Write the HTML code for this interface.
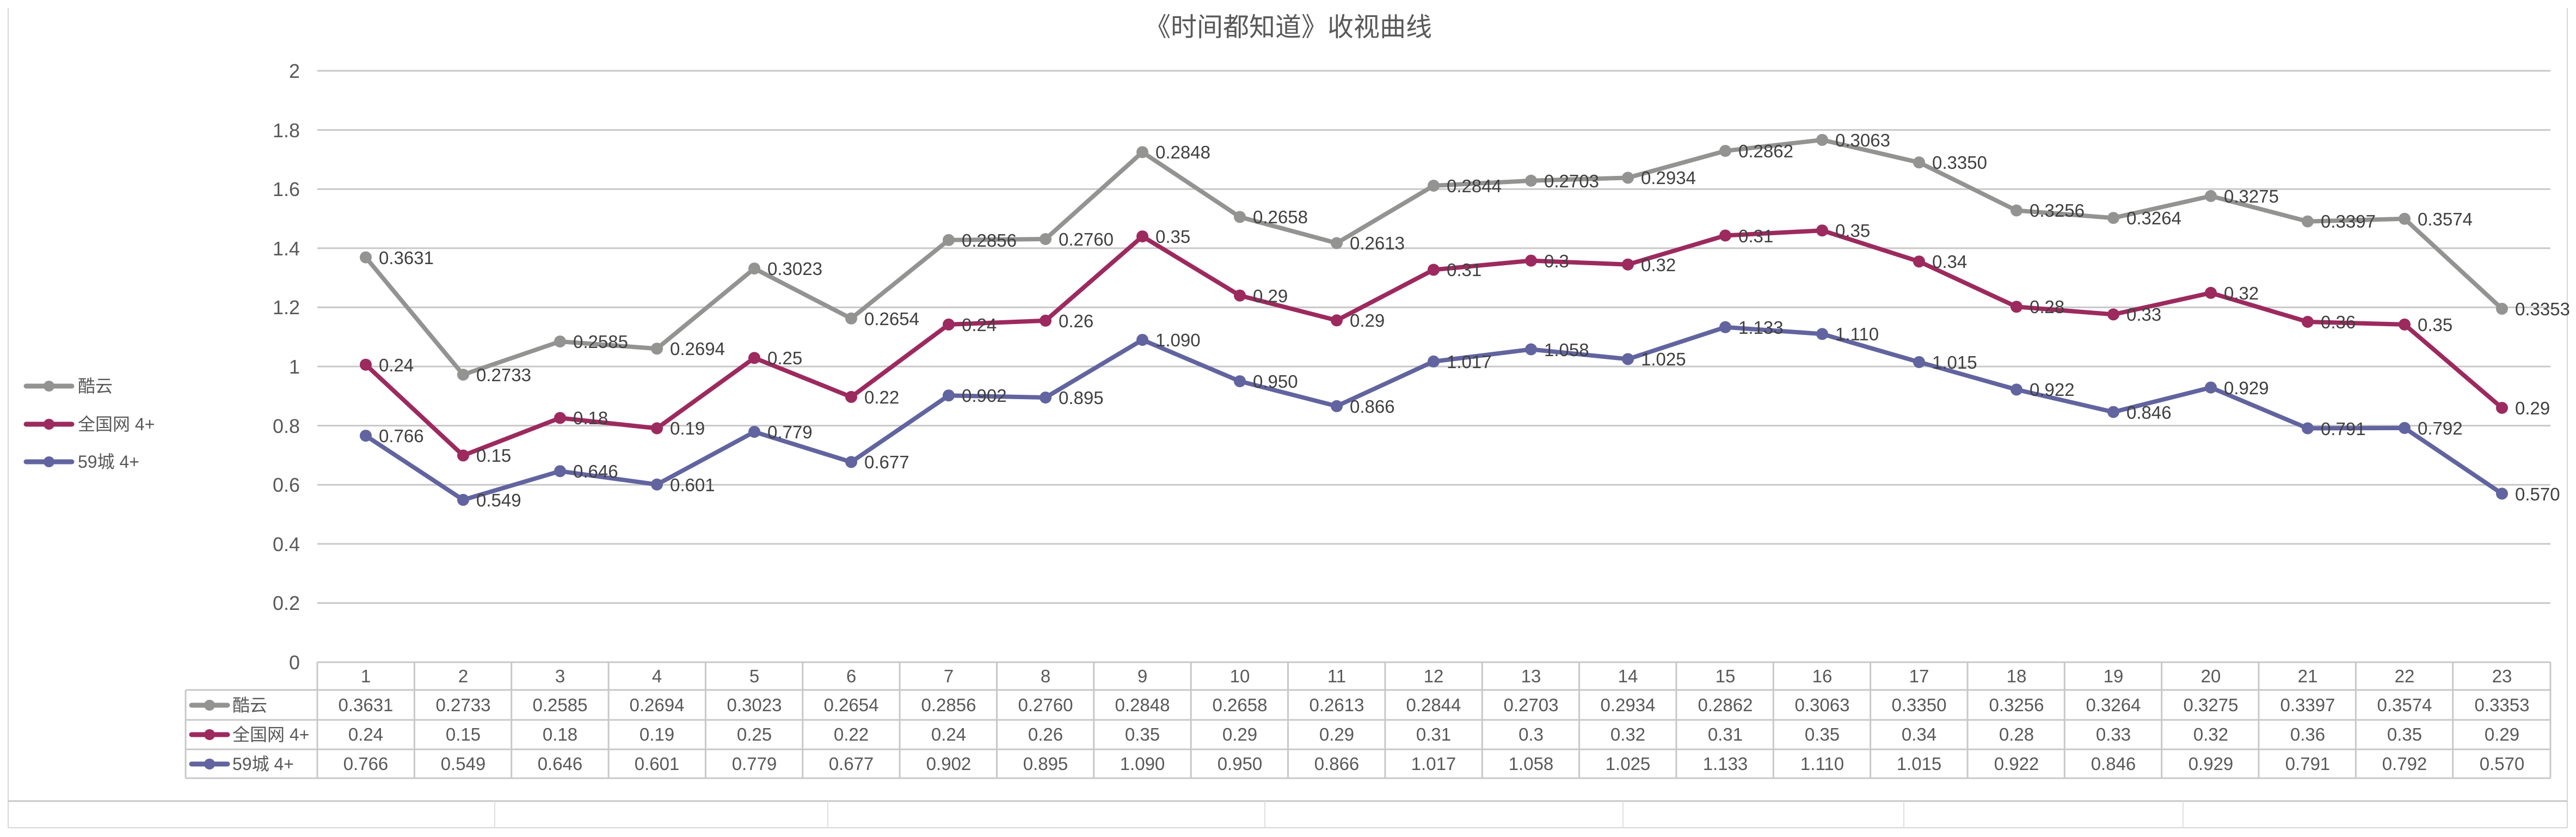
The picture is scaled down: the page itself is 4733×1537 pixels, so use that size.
<!DOCTYPE html>
<html><head><meta charset="utf-8"><style>
html,body{margin:0;padding:0;background:#fff;}
svg{display:block;font-family:"Liberation Sans","Noto Sans CJK SC",sans-serif;}
</style></head><body>
<svg width="4733" height="1537" viewBox="0 0 4733 1537" xmlns="http://www.w3.org/2000/svg">
<rect width="4733" height="1537" fill="#fff"/>
<!-- outer frame -->
<line x1="15" y1="15" x2="15" y2="1520" stroke="#d6d6d6" stroke-width="2"/>
<line x1="4717" y1="15" x2="4717" y2="1520" stroke="#d6d6d6" stroke-width="2"/>
<line x1="15" y1="1471" x2="4717" y2="1471" stroke="#c8c8c8" stroke-width="3"/>
<line x1="15" y1="1520" x2="4717" y2="1520" stroke="#d6d6d6" stroke-width="2"/>
<g stroke="#e0e0e0" stroke-width="2">
<line x1="909" y1="1471" x2="909" y2="1520"/><line x1="1521" y1="1471" x2="1521" y2="1520"/>
<line x1="2324" y1="1471" x2="2324" y2="1520"/><line x1="2982" y1="1471" x2="2982" y2="1520"/>
<line x1="3498" y1="1471" x2="3498" y2="1520"/><line x1="4011" y1="1471" x2="4011" y2="1520"/>
</g>
<!-- title -->
<text x="2367" y="66" font-size="48" fill="#595959" text-anchor="middle">《时间都知道》收视曲线</text>
<!-- gridlines -->
<g stroke="#c8c8c8" stroke-width="3">
<line x1="583" y1="130" x2="4686" y2="130"/><line x1="583" y1="238.6" x2="4686" y2="238.6"/>
<line x1="583" y1="347.2" x2="4686" y2="347.2"/><line x1="583" y1="455.8" x2="4686" y2="455.8"/>
<line x1="583" y1="564.4" x2="4686" y2="564.4"/><line x1="583" y1="673" x2="4686" y2="673"/>
<line x1="583" y1="781.6" x2="4686" y2="781.6"/><line x1="583" y1="890.2" x2="4686" y2="890.2"/>
<line x1="583" y1="998.8" x2="4686" y2="998.8"/><line x1="583" y1="1107.4" x2="4686" y2="1107.4"/>
</g>
<g font-size="36" fill="#595959" text-anchor="end">
<text x="551" y="143">2</text><text x="551" y="252">1.8</text><text x="551" y="360">1.6</text>
<text x="551" y="469">1.4</text><text x="551" y="577">1.2</text><text x="551" y="686">1</text>
<text x="551" y="795">0.8</text><text x="551" y="903">0.6</text><text x="551" y="1012">0.4</text>
<text x="551" y="1120">0.2</text><text x="551" y="1229">0</text>
</g>
<!-- table -->
<g stroke="#c8c8c8" stroke-width="3" fill="none">
<line x1="583" y1="1216" x2="4686" y2="1216"/>
<line x1="341" y1="1267" x2="4686" y2="1267"/>
<line x1="341" y1="1322" x2="4686" y2="1322"/>
<line x1="341" y1="1376" x2="4686" y2="1376"/>
<line x1="341" y1="1429" x2="4686" y2="1429"/>
<line x1="341" y1="1267" x2="341" y2="1429"/>
<line x1="583" y1="1216" x2="583" y2="1429"/><line x1="761.4" y1="1216" x2="761.4" y2="1429"/><line x1="939.7" y1="1216" x2="939.7" y2="1429"/><line x1="1118.1" y1="1216" x2="1118.1" y2="1429"/><line x1="1296.4" y1="1216" x2="1296.4" y2="1429"/><line x1="1474.8" y1="1216" x2="1474.8" y2="1429"/><line x1="1653.1" y1="1216" x2="1653.1" y2="1429"/><line x1="1831.5" y1="1216" x2="1831.5" y2="1429"/><line x1="2009.8" y1="1216" x2="2009.8" y2="1429"/><line x1="2188.2" y1="1216" x2="2188.2" y2="1429"/><line x1="2366.5" y1="1216" x2="2366.5" y2="1429"/><line x1="2544.9" y1="1216" x2="2544.9" y2="1429"/><line x1="2723.2" y1="1216" x2="2723.2" y2="1429"/><line x1="2901.6" y1="1216" x2="2901.6" y2="1429"/><line x1="3079.9" y1="1216" x2="3079.9" y2="1429"/><line x1="3258.3" y1="1216" x2="3258.3" y2="1429"/><line x1="3436.6" y1="1216" x2="3436.6" y2="1429"/><line x1="3615" y1="1216" x2="3615" y2="1429"/><line x1="3793.3" y1="1216" x2="3793.3" y2="1429"/><line x1="3971.7" y1="1216" x2="3971.7" y2="1429"/><line x1="4150" y1="1216" x2="4150" y2="1429"/><line x1="4328.4" y1="1216" x2="4328.4" y2="1429"/><line x1="4506.7" y1="1216" x2="4506.7" y2="1429"/><line x1="4686" y1="1216" x2="4686" y2="1429"/>
</g>
<!-- table legend -->
<g stroke-width="9" stroke-linecap="round">
<line x1="352" y1="1295" x2="418" y2="1295" stroke="#939492"/><circle cx="385" cy="1295" r="10" fill="#939492" stroke="none"/>
<line x1="352" y1="1349" x2="418" y2="1349" stroke="#9c2a5e"/><circle cx="385" cy="1349" r="10" fill="#9c2a5e" stroke="none"/>
<line x1="352" y1="1403" x2="418" y2="1403" stroke="#6264a0"/><circle cx="385" cy="1403" r="10" fill="#6264a0" stroke="none"/>
</g>
<g font-size="32" fill="#595959">
<text x="427" y="1306">酷云</text><text x="427" y="1360">全国网 4+</text><text x="427" y="1414">59城 4+</text>
</g>
<g font-size="33" fill="#595959" text-anchor="middle">
<text y="1253"><tspan x="672">1</tspan><tspan x="851">2</tspan><tspan x="1029">3</tspan><tspan x="1207">4</tspan><tspan x="1386">5</tspan><tspan x="1564">6</tspan><tspan x="1743">7</tspan><tspan x="1921">8</tspan><tspan x="2099">9</tspan><tspan x="2278">10</tspan><tspan x="2456">11</tspan><tspan x="2634">12</tspan><tspan x="2813">13</tspan><tspan x="2991">14</tspan><tspan x="3170">15</tspan><tspan x="3348">16</tspan><tspan x="3526">17</tspan><tspan x="3705">18</tspan><tspan x="3883">19</tspan><tspan x="4062">20</tspan><tspan x="4240">21</tspan><tspan x="4418">22</tspan><tspan x="4597">23</tspan></text>
<text y="1306"><tspan x="672">0.3631</tspan><tspan x="851">0.2733</tspan><tspan x="1029">0.2585</tspan><tspan x="1207">0.2694</tspan><tspan x="1386">0.3023</tspan><tspan x="1564">0.2654</tspan><tspan x="1743">0.2856</tspan><tspan x="1921">0.2760</tspan><tspan x="2099">0.2848</tspan><tspan x="2278">0.2658</tspan><tspan x="2456">0.2613</tspan><tspan x="2634">0.2844</tspan><tspan x="2813">0.2703</tspan><tspan x="2991">0.2934</tspan><tspan x="3170">0.2862</tspan><tspan x="3348">0.3063</tspan><tspan x="3526">0.3350</tspan><tspan x="3705">0.3256</tspan><tspan x="3883">0.3264</tspan><tspan x="4062">0.3275</tspan><tspan x="4240">0.3397</tspan><tspan x="4418">0.3574</tspan><tspan x="4597">0.3353</tspan></text>
<text y="1360"><tspan x="672">0.24</tspan><tspan x="851">0.15</tspan><tspan x="1029">0.18</tspan><tspan x="1207">0.19</tspan><tspan x="1386">0.25</tspan><tspan x="1564">0.22</tspan><tspan x="1743">0.24</tspan><tspan x="1921">0.26</tspan><tspan x="2099">0.35</tspan><tspan x="2278">0.29</tspan><tspan x="2456">0.29</tspan><tspan x="2634">0.31</tspan><tspan x="2813">0.3</tspan><tspan x="2991">0.32</tspan><tspan x="3170">0.31</tspan><tspan x="3348">0.35</tspan><tspan x="3526">0.34</tspan><tspan x="3705">0.28</tspan><tspan x="3883">0.33</tspan><tspan x="4062">0.32</tspan><tspan x="4240">0.36</tspan><tspan x="4418">0.35</tspan><tspan x="4597">0.29</tspan></text>
<text y="1414"><tspan x="672">0.766</tspan><tspan x="851">0.549</tspan><tspan x="1029">0.646</tspan><tspan x="1207">0.601</tspan><tspan x="1386">0.779</tspan><tspan x="1564">0.677</tspan><tspan x="1743">0.902</tspan><tspan x="1921">0.895</tspan><tspan x="2099">1.090</tspan><tspan x="2278">0.950</tspan><tspan x="2456">0.866</tspan><tspan x="2634">1.017</tspan><tspan x="2813">1.058</tspan><tspan x="2991">1.025</tspan><tspan x="3170">1.133</tspan><tspan x="3348">1.110</tspan><tspan x="3526">1.015</tspan><tspan x="3705">0.922</tspan><tspan x="3883">0.846</tspan><tspan x="4062">0.929</tspan><tspan x="4240">0.791</tspan><tspan x="4418">0.792</tspan><tspan x="4597">0.570</tspan></text>
</g>
<!-- left legend -->
<g stroke-width="9" stroke-linecap="round">
<line x1="48" y1="709" x2="132" y2="709" stroke="#939492"/><circle cx="90" cy="709" r="10" fill="#939492" stroke="none"/>
<line x1="48" y1="779" x2="132" y2="779" stroke="#9c2a5e"/><circle cx="90" cy="779" r="10" fill="#9c2a5e" stroke="none"/>
<line x1="48" y1="848" x2="132" y2="848" stroke="#6264a0"/><circle cx="90" cy="848" r="10" fill="#6264a0" stroke="none"/>
</g>
<g font-size="32" fill="#595959">
<text x="143" y="720">酷云</text><text x="143" y="790">全国网 4+</text><text x="143" y="859">59城 4+</text>
</g>
<!-- series -->
<polyline fill="none" stroke="#939492" stroke-width="8" stroke-linejoin="round" points="672,472.6 851,688 1029,627.1 1207,640.2 1386,493.1 1564,584.8 1743,440.8 1921,439 2099,279.4 2278,398.4 2456,446.4 2634,341 2813,331.8 2991,326.4 3170,277.1 3348,256.9 3526,298.3 3705,386.5 3883,400.2 4062,360 4240,406.6 4418,401.8 4597,567"/>
<polyline fill="none" stroke="#9c2a5e" stroke-width="8" stroke-linejoin="round" points="672,669.7 851,836.4 1029,767.5 1207,786.5 1386,657.3 1564,728.9 1743,595.9 1921,588.8 2099,434.1 2278,542.7 2456,588.3 2634,495.4 2813,478.6 2991,485.7 3170,432.5 3348,423.2 3526,480.2 3705,563.3 3883,577.4 4062,537.8 4240,591 4418,595.9 4597,749"/>
<polyline fill="none" stroke="#6264a0" stroke-width="8" stroke-linejoin="round" points="672,800.1 851,917.9 1029,865.2 1207,889.7 1386,793 1564,848.4 1743,726.2 1921,730 2099,624.1 2278,700.1 2456,745.8 2634,663.8 2813,641.5 2991,659.4 3170,600.8 3348,613.3 3526,664.9 3705,715.4 3883,756.6 4062,711.6 4240,786.5 4418,785.9 4597,906.5"/>
<g fill="#939492">
<circle cx="672" cy="472.6" r="11"/><circle cx="851" cy="688" r="11"/><circle cx="1029" cy="627.1" r="11"/><circle cx="1207" cy="640.2" r="11"/><circle cx="1386" cy="493.1" r="11"/><circle cx="1564" cy="584.8" r="11"/><circle cx="1743" cy="440.8" r="11"/><circle cx="1921" cy="439" r="11"/><circle cx="2099" cy="279.4" r="11"/><circle cx="2278" cy="398.4" r="11"/><circle cx="2456" cy="446.4" r="11"/><circle cx="2634" cy="341" r="11"/><circle cx="2813" cy="331.8" r="11"/><circle cx="2991" cy="326.4" r="11"/><circle cx="3170" cy="277.1" r="11"/><circle cx="3348" cy="256.9" r="11"/><circle cx="3526" cy="298.3" r="11"/><circle cx="3705" cy="386.5" r="11"/><circle cx="3883" cy="400.2" r="11"/><circle cx="4062" cy="360" r="11"/><circle cx="4240" cy="406.6" r="11"/><circle cx="4418" cy="401.8" r="11"/><circle cx="4597" cy="567" r="11"/>
</g>
<g fill="#9c2a5e">
<circle cx="672" cy="669.7" r="11"/><circle cx="851" cy="836.4" r="11"/><circle cx="1029" cy="767.5" r="11"/><circle cx="1207" cy="786.5" r="11"/><circle cx="1386" cy="657.3" r="11"/><circle cx="1564" cy="728.9" r="11"/><circle cx="1743" cy="595.9" r="11"/><circle cx="1921" cy="588.8" r="11"/><circle cx="2099" cy="434.1" r="11"/><circle cx="2278" cy="542.7" r="11"/><circle cx="2456" cy="588.3" r="11"/><circle cx="2634" cy="495.4" r="11"/><circle cx="2813" cy="478.6" r="11"/><circle cx="2991" cy="485.7" r="11"/><circle cx="3170" cy="432.5" r="11"/><circle cx="3348" cy="423.2" r="11"/><circle cx="3526" cy="480.2" r="11"/><circle cx="3705" cy="563.3" r="11"/><circle cx="3883" cy="577.4" r="11"/><circle cx="4062" cy="537.8" r="11"/><circle cx="4240" cy="591" r="11"/><circle cx="4418" cy="595.9" r="11"/><circle cx="4597" cy="749" r="11"/>
</g>
<g fill="#6264a0">
<circle cx="672" cy="800.1" r="11"/><circle cx="851" cy="917.9" r="11"/><circle cx="1029" cy="865.2" r="11"/><circle cx="1207" cy="889.7" r="11"/><circle cx="1386" cy="793" r="11"/><circle cx="1564" cy="848.4" r="11"/><circle cx="1743" cy="726.2" r="11"/><circle cx="1921" cy="730" r="11"/><circle cx="2099" cy="624.1" r="11"/><circle cx="2278" cy="700.1" r="11"/><circle cx="2456" cy="745.8" r="11"/><circle cx="2634" cy="663.8" r="11"/><circle cx="2813" cy="641.5" r="11"/><circle cx="2991" cy="659.4" r="11"/><circle cx="3170" cy="600.8" r="11"/><circle cx="3348" cy="613.3" r="11"/><circle cx="3526" cy="664.9" r="11"/><circle cx="3705" cy="715.4" r="11"/><circle cx="3883" cy="756.6" r="11"/><circle cx="4062" cy="711.6" r="11"/><circle cx="4240" cy="786.5" r="11"/><circle cx="4418" cy="785.9" r="11"/><circle cx="4597" cy="906.5" r="11"/>
</g>
<!-- data labels -->
<g font-size="33" fill="#404040">
<text x="696" y="485">0.3631</text><text x="875" y="700">0.2733</text><text x="1053" y="639">0.2585</text><text x="1231" y="652">0.2694</text><text x="1410" y="505">0.3023</text><text x="1588" y="597">0.2654</text><text x="1767" y="453">0.2856</text><text x="1945" y="451">0.2760</text><text x="2123" y="291">0.2848</text><text x="2302" y="410">0.2658</text><text x="2480" y="458">0.2613</text><text x="2658" y="353">0.2844</text><text x="2837" y="344">0.2703</text><text x="3015" y="338">0.2934</text><text x="3194" y="289">0.2862</text><text x="3372" y="269">0.3063</text><text x="3550" y="310">0.3350</text><text x="3729" y="398">0.3256</text><text x="3907" y="412">0.3264</text><text x="4086" y="372">0.3275</text><text x="4264" y="418">0.3397</text><text x="4442" y="414">0.3574</text><text x="4621" y="579">0.3353</text>
<text x="696" y="682">0.24</text><text x="875" y="848">0.15</text><text x="1053" y="779">0.18</text><text x="1231" y="798">0.19</text><text x="1410" y="669">0.25</text><text x="1588" y="741">0.22</text><text x="1767" y="608">0.24</text><text x="1945" y="601">0.26</text><text x="2123" y="446">0.35</text><text x="2302" y="555">0.29</text><text x="2480" y="600">0.29</text><text x="2658" y="507">0.31</text><text x="2837" y="491">0.3</text><text x="3015" y="498">0.32</text><text x="3194" y="445">0.31</text><text x="3372" y="435">0.35</text><text x="3550" y="492">0.34</text><text x="3729" y="575">0.28</text><text x="3907" y="589">0.33</text><text x="4086" y="550">0.32</text><text x="4264" y="603">0.36</text><text x="4442" y="608">0.35</text><text x="4621" y="761">0.29</text>
<text x="696" y="812">0.766</text><text x="875" y="930">0.549</text><text x="1053" y="877">0.646</text><text x="1231" y="902">0.601</text><text x="1410" y="805">0.779</text><text x="1588" y="860">0.677</text><text x="1767" y="738">0.902</text><text x="1945" y="742">0.895</text><text x="2123" y="636">1.090</text><text x="2302" y="712">0.950</text><text x="2480" y="758">0.866</text><text x="2658" y="676">1.017</text><text x="2837" y="654">1.058</text><text x="3015" y="671">1.025</text><text x="3194" y="613">1.133</text><text x="3372" y="625">1.110</text><text x="3550" y="677">1.015</text><text x="3729" y="727">0.922</text><text x="3907" y="769">0.846</text><text x="4086" y="724">0.929</text><text x="4264" y="799">0.791</text><text x="4442" y="798">0.792</text><text x="4621" y="919">0.570</text>
</g>
</svg>
</body></html>
